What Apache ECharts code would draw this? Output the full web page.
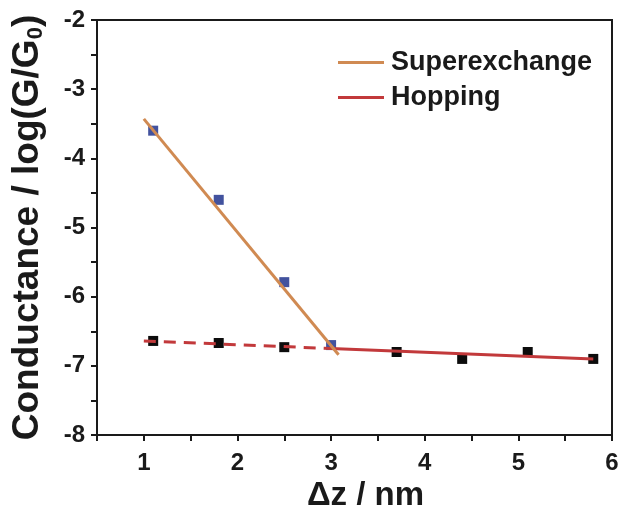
<!DOCTYPE html>
<html>
<head>
<meta charset="utf-8">
<script src="https://cdn.jsdelivr.net/npm/echarts@6/dist/echarts.min.js"></script>
<style>
  html, body { margin: 0; padding: 0; background: #fff; }
  #chart { width: 620px; height: 505px; }
</style>
</head>
<body>
<div id="chart"></div>
<script>
// Measured conductance vs. tip displacement
const superexchangePoints = [[1.1, -3.60], [1.8, -4.60], [2.5, -5.79], [3.0, -6.70]];
const hoppingPoints = [[1.1, -6.64], [1.8, -6.67], [2.5, -6.73], [3.7, -6.80], [4.4, -6.90], [5.1, -6.80], [5.8, -6.90]];

// Linear fits for the two transport regimes
const superexchangeFit = [[1.0, -3.43], [3.08, -6.84]];
const hoppingFitSolid = [[3.0, -6.75], [5.8, -6.90]];
const hoppingFitExtrapolated = [[1.0, -6.64], [3.0, -6.75]];

// Axis ranges
const xRange = { min: 0.5, max: 6, step: 0.5 };
const yRange = { min: -8, max: -2, step: 0.5 };

const FONT = '"Liberation Sans", Arial, sans-serif';
const INK = '#1a1a1a';
const ORANGE = '#d08a52';
const RED = '#c2393b';

const intOnly = v => (Math.abs(v - Math.round(v)) < 1e-9 ? String(Math.round(v)) : '');

const axisCommon = {
  type: 'value',
  splitLine: { show: false },
  axisLine: { show: true, lineStyle: { color: INK, width: 2 } },
  axisTick: { show: true, inside: false, length: 6, lineStyle: { color: INK, width: 2 } },
  axisLabel: { color: INK, fontFamily: FONT, fontWeight: 'bold', fontSize: 24, formatter: intOnly, showMinLabel: true, showMaxLabel: true }
};

const chart = echarts.init(document.getElementById('chart'), null, { renderer: 'canvas' });

chart.setOption({
  backgroundColor: '#fff',
  animation: false,
  grid: {
    left: 97, right: 8, top: 20, bottom: 70,
    outerBoundsMode: 'none', containLabel: false,
    show: true, borderColor: INK, borderWidth: 2, backgroundColor: 'transparent'
  },
  legend: {
    data: [
      { name: 'Superexchange', icon: 'rect' },
      { name: 'Hopping', icon: 'rect' }
    ],
    orient: 'vertical',
    left: 333, top: 44,
    itemWidth: 46, itemHeight: 3, itemGap: 8,
    textStyle: { color: INK, fontFamily: FONT, fontWeight: 'bold', fontSize: 27, padding: [0, 0, 0, 2] }
  },
  xAxis: Object.assign({}, axisCommon, {
    min: xRange.min, max: xRange.max, interval: xRange.step,
    axisLabel: Object.assign({}, axisCommon.axisLabel, { margin: 16 }),
    name: 'Δz / nm',
    nameLocation: 'middle',
    nameGap: 43,
    nameTextStyle: { color: INK, fontFamily: FONT, fontWeight: 'bold', fontSize: 33, padding: [0, 0, 0, 22] }
  }),
  yAxis: Object.assign({}, axisCommon, {
    min: yRange.min, max: yRange.max, interval: yRange.step,
    axisLabel: Object.assign({}, axisCommon.axisLabel, { margin: 12 }),
    name: 'Conductance / log(G/G{sub|0})',
    nameLocation: 'middle',
    nameRotate: 90,
    nameGap: 50,
    nameTextStyle: {
      color: INK, fontFamily: FONT, fontWeight: 'bold', fontSize: 37,
      rich: { sub: { fontFamily: FONT, fontWeight: 'bold', fontSize: 22, color: INK, verticalAlign: 'bottom', padding: [16, 0, 0, 0] } }
    }
  }),
  series: [
    {
      name: 'Superexchange points', type: 'scatter', data: superexchangePoints,
      symbol: 'rect', symbolSize: 10, itemStyle: { color: '#42529e', opacity: 1 }, z: 2
    },
    {
      name: 'Hopping points', type: 'scatter', data: hoppingPoints,
      symbol: 'rect', symbolSize: 10, itemStyle: { color: '#0c0c0c', opacity: 1 }, z: 2
    },
    {
      name: 'Superexchange', type: 'line', data: superexchangeFit,
      symbol: 'none', lineStyle: { color: ORANGE, width: 3 }, itemStyle: { color: ORANGE }, z: 4
    },
    {
      name: 'Hopping', type: 'line', data: hoppingFitSolid,
      symbol: 'none', lineStyle: { color: RED, width: 3 }, itemStyle: { color: RED }, z: 3
    },
    {
      name: 'Hopping extrapolation', type: 'line', data: hoppingFitExtrapolated,
      symbol: 'none', lineStyle: { color: RED, width: 3, type: [12, 8] }, z: 3
    }
  ]
});
</script>
</body>
</html>
